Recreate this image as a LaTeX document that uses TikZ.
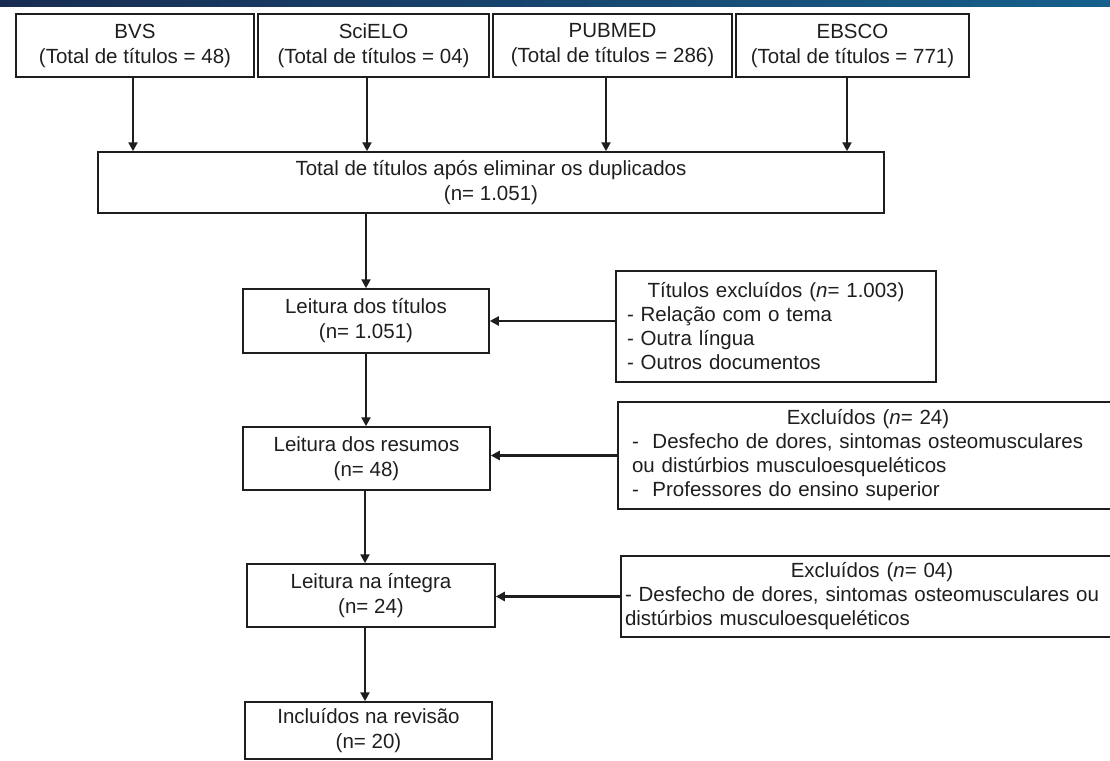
\documentclass[tikz,border=0pt]{standalone}
\usepackage{fontspec}
\setmainfont{Liberation Sans}
\usetikzlibrary{arrows.meta,calc}
\definecolor{ink}{RGB}{30,30,30}
\definecolor{navyL}{RGB}{24,44,82}
\definecolor{navyR}{RGB}{22,96,140}
\begin{document}
\begin{tikzpicture}[x=1pt,y=-1pt,
  font=\fontsize{20.5}{25}\selectfont,
  box/.style={draw=ink, line width=1.5pt, rectangle, inner sep=0pt, align=center, text=ink},
  exbox/.style={draw=ink, line width=1.5pt, rectangle, align=left, text=ink, inner ysep=0pt,
    font=\fontsize{20.5}{24}\selectfont},
  arr/.style={line width=2.5pt, draw=ink, -{Triangle[length=9pt,width=9pt]}}]
\useasboundingbox (0,0) rectangle (1110,760);
\clip (0,0) rectangle (1110,760);
\shade[left color=navyL, right color=navyR] (0,0) rectangle (1110,7);

% sources
\node[box, minimum width=238, minimum height=63] (bvs) at (135,45.5) {BVS\\(Total de títulos = 48)};
\node[box, minimum width=231, minimum height=63] (scielo) at (373.5,45.5) {SciELO\\(Total de títulos = 04)};
\node[box, minimum width=239, minimum height=63] (pubmed) at (612.5,45.5) {PUBMED\\(Total de títulos = 286)};
\node[box, minimum width=233, minimum height=63] (ebsco) at (852.5,45.5) {EBSCO\\(Total de títulos = 771)};

\node[box, minimum width=786, minimum height=61] (total) at (491,182.5) {Total de títulos após eliminar os duplicados\\(n= 1.051)};

% main column
\node[box, minimum width=246, minimum height=64] (titulos) at (366,321) {Leitura dos títulos\\(n= 1.051)};
\node[box, minimum width=247, minimum height=63] (resumos) at (366.5,458.5) {Leitura dos resumos\\(n= 48)};
\node[box, minimum width=248, minimum height=63] (integra) at (371,595.5) {Leitura na íntegra\\(n= 24)};
\node[box, minimum width=247, minimum height=57] (incl) at (368.5,730.5) {Incluídos na revisão\\(n= 20)};

% exclusion boxes
\node[exbox, text width=298, inner xsep=11, minimum height=111] (ex1) at (776,326.5)
  {\makebox[298pt][c]{Títulos excluídos (\textit{n}= 1.003)}\\- Relação com o tema\\- Outra língua\\- Outros documentos};
\node[exbox, text width=472, inner xsep=14, minimum height=107] (ex2) at (868,455.5)
  {\makebox[472pt][c]{Excluídos (\textit{n}= 24)}\\-\ \ Desfecho de dores, sintomas osteomusculares\\ou distúrbios musculoesqueléticos\\-\ \ Professores do ensino superior};
\node[exbox, text width=494, inner xsep=4, minimum height=81] (ex3) at (872,596.5)
  {\makebox[494pt][c]{Excluídos (\textit{n}= 04)}\\- Desfecho de dores, sintomas osteomusculares ou\\distúrbios musculoesqueléticos};

% connectors
\draw[arr] ([xshift=-2pt]bvs.south) -- ([xshift=-2pt]bvs.south |- total.north);
\draw[arr] ([xshift=-6.5pt]scielo.south) -- ([xshift=-6.5pt]scielo.south |- total.north);
\draw[arr] ([xshift=-6.5pt]pubmed.south) -- ([xshift=-6.5pt]pubmed.south |- total.north);
\draw[arr] ([xshift=-5.5pt]ebsco.south) -- ([xshift=-5.5pt]ebsco.south |- total.north);
\draw[arr] (titulos.north |- total.south) -- (titulos.north);
\draw[arr] (titulos.south) -- (titulos.south |- resumos.north);
\draw[arr] ([xshift=-1.5pt]resumos.south) -- ([xshift=-1.5pt]resumos.south |- integra.north);
\draw[arr] ([xshift=-6pt]integra.south) -- ([xshift=-6pt]integra.south |- incl.north);
\draw[arr] (ex1.west |- titulos.east) -- (titulos.east);
\draw[arr] (ex2.west) -- (ex2.west -| resumos.east);
\draw[arr] (ex3.west) -- (ex3.west -| integra.east);
\end{tikzpicture}
\end{document}
